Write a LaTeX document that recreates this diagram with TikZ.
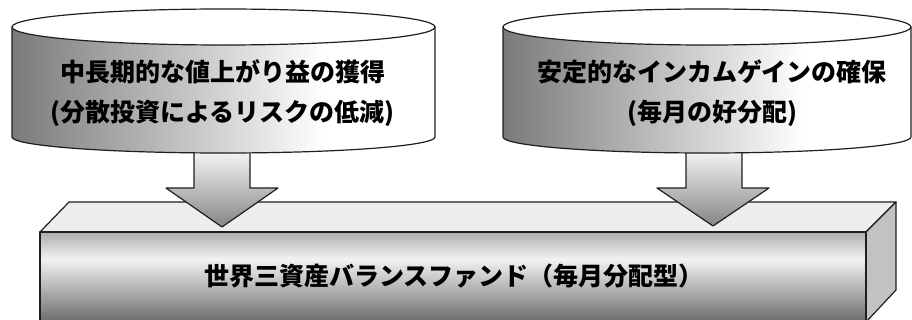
\documentclass[tikz,border=0pt]{standalone}
\usepackage{fontspec}
\newfontfamily\jp{Noto Sans CJK JP}
\definecolor{gA}{gray}{0.48}
\definecolor{gB}{gray}{0.55}
\definecolor{gC}{gray}{0.42}
\definecolor{gD}{gray}{0.95}
\definecolor{gE}{gray}{0.68}
\definecolor{topface}{gray}{0.93}
\definecolor{sideface}{gray}{0.76}
\definecolor{arrowtop}{gray}{0.99}
\definecolor{arrowbot}{gray}{0.52}
\definecolor{edge}{gray}{0.12}
\pgfdeclarehorizontalshading{cylshade}{100bp}{color(0bp)=(gA); color(25bp)=(gA); color(62bp)=(white); color(75bp)=(white); color(100bp)=(gB)}
\pgfdeclareverticalshading{boxfront}{100bp}{color(0bp)=(gC); color(25bp)=(gC); color(60bp)=(gD); color(75bp)=(gE); color(100bp)=(gE)}
\pgfdeclareverticalshading{arrowshade}{100bp}{color(0bp)=(arrowbot); color(25bp)=(arrowbot); color(75bp)=(arrowtop); color(100bp)=(arrowtop)}
\tikzset{
  outline/.style={draw=edge, line width=1.2pt, line join=round},
  label/.style={font=\jp\bfseries\fontsize{25}{30}\selectfont, text=black, inner sep=0pt},
}
\begin{document}
\begin{tikzpicture}[x=1pt,y=1pt]
\useasboundingbox (0,0) rectangle (912,-320);
\fill[white] (0,0) rectangle (912,-320);
\begin{scope}
\clip (0,0) rectangle (912,-320);
% box
\fill[topface] (40,-232) -- (69,-202) -- (896,-202) -- (866,-232) -- cycle;
\draw[outline] (40,-232) -- (69,-202) -- (896,-202) -- (866,-232);
\fill[sideface] (866,-232) -- (896,-202) -- (896,-290) -- (866,-322) -- cycle;
\draw[outline] (866,-232) -- (896,-202) -- (896,-290) -- (866,-322);
\shade[shading=boxfront] (40,-232) rectangle (866,-322);
\draw[outline] (40,-322) -- (40,-232) -- (866,-232) -- (866,-322);
\node[label] (fund) at (454,-276) {世界三資産バランスファンド（毎月分配型）};
% arrows
\shade[shading=arrowshade] (194,-146) -- (194,-188) -- (166,-188) -- (222,-227) -- (278,-188) -- (250,-188) -- (250,-146) -- cycle;
\draw[outline] (194,-146) -- (194,-188) -- (166,-188) -- (222,-227) -- (278,-188) -- (250,-188) -- (250,-146);
\shade[shading=arrowshade] (686,-146) -- (686,-188) -- (657,-188) -- (713,-226) -- (769,-188) -- (742,-188) -- (742,-146) -- cycle;
\draw[outline] (686,-146) -- (686,-188) -- (657,-188) -- (713,-226) -- (769,-188) -- (742,-188) -- (742,-146);
% left cylinder
\shade[shading=cylshade] (12,-27) -- (12,-137) arc[start angle=180,end angle=360,x radius=211.5,y radius=16] -- (435,-27) arc[start angle=0,end angle=-180,x radius=211.5,y radius=18] -- cycle;
\draw[outline] (12,-27) -- (12,-137) arc[start angle=180,end angle=360,x radius=211.5,y radius=16] -- (435,-27);
\draw[outline,fill=white] (223.5,-27) ellipse[x radius=211.5,y radius=18];
% right cylinder
\shade[shading=cylshade] (503,-27) -- (503,-137) arc[start angle=180,end angle=360,x radius=204,y radius=16] -- (911,-27) arc[start angle=0,end angle=-180,x radius=204,y radius=18] -- cycle;
\draw[outline] (503,-27) -- (503,-137) arc[start angle=180,end angle=360,x radius=204,y radius=16] -- (911,-27);
\draw[outline,fill=white] (707,-27) ellipse[x radius=204,y radius=18];
\end{scope}
\node[label] (l1) at (222.5,-72) {中長期的な値上がり益の獲得};
\node[label] (l2) at (222.5,-113) {(分散投資によるリスクの低減)};
\node[label] (r1) at (712,-72) {安定的なインカムゲインの確保};
\node[label] (r2) at (712,-113) {(毎月の好分配)};
\end{tikzpicture}
\end{document}
